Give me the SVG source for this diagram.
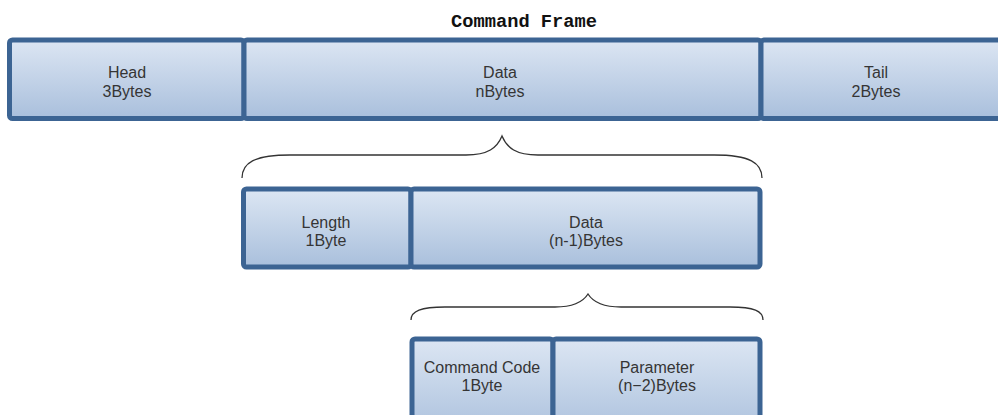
<svg xmlns="http://www.w3.org/2000/svg" width="998" height="415" viewBox="0 0 998 415">
<defs>
<linearGradient id="cellFill" x1="0" y1="0" x2="0" y2="1">
<stop offset="0" stop-color="#dce6f3"/>
<stop offset="1" stop-color="#a9bfdc"/>
</linearGradient>
<style>
.cell{fill:url(#cellFill);stroke:#3c6493;stroke-width:5;}
.lbl{font-family:"Liberation Sans",Arial,sans-serif;font-size:16px;fill:#353535;text-anchor:middle;}
.title{font-family:"Liberation Mono","Courier New",monospace;font-weight:bold;font-size:18px;fill:#111;text-anchor:middle;}
.brace{fill:none;stroke:#333;stroke-width:1.3;}
</style>
</defs>
<rect width="998" height="415" fill="#ffffff"/>
<text class="title" x="524" y="27" textLength="146" lengthAdjust="spacingAndGlyphs">Command Frame</text>
<g id="head">
<rect class="cell" x="9.5" y="40" width="234.5" height="78.5" rx="3"/>
<text class="lbl" x="127" y="78">Head</text>
<text class="lbl" x="127" y="97">3Bytes</text>
</g>
<g id="data">
<rect class="cell" x="244" y="40" width="517" height="78.5" rx="3"/>
<text class="lbl" x="500" y="78">Data</text>
<text class="lbl" x="500" y="97">nBytes</text>
</g>
<g id="tail">
<rect class="cell" x="761" y="40" width="250" height="78.5" rx="3"/>
<text class="lbl" x="876" y="78">Tail</text>
<text class="lbl" x="876" y="97">2Bytes</text>
</g>
<g id="length">
<rect class="cell" x="243.5" y="189" width="167.5" height="78" rx="3"/>
<text class="lbl" x="326" y="228">Length</text>
<text class="lbl" x="326" y="246">1Byte</text>
</g>
<g id="data2">
<rect class="cell" x="411" y="189" width="349" height="78" rx="3"/>
<text class="lbl" x="586" y="228">Data</text>
<text class="lbl" x="586" y="246">(n-1)Bytes</text>
</g>
<g id="cmdcode">
<rect class="cell" x="412" y="339" width="141" height="100" rx="3"/>
<text class="lbl" x="482" y="373">Command Code</text>
<text class="lbl" x="482" y="391">1Byte</text>
</g>
<g id="parameter">
<rect class="cell" x="553" y="339" width="207" height="100" rx="3"/>
<text class="lbl" x="657" y="373">Parameter</text>
<text class="lbl" x="657" y="391">(n−2)Bytes</text>
</g>
<g id="connectors">
<path class="brace" d="M242 178 C242 163 254 155 290 155 L466 155 C488 155 497 148 502 136 C507 148 516 155 538 155 L714 155 C750 155 762 163 762 178"/>
<path class="brace" d="M411 320 C411 311 421 307 445 307 L555 307 C574 307 583 302 588 294 C593 302 602 307 621 307 L730 307 C754 307 763 311 763 320"/>
</g>
</svg>
